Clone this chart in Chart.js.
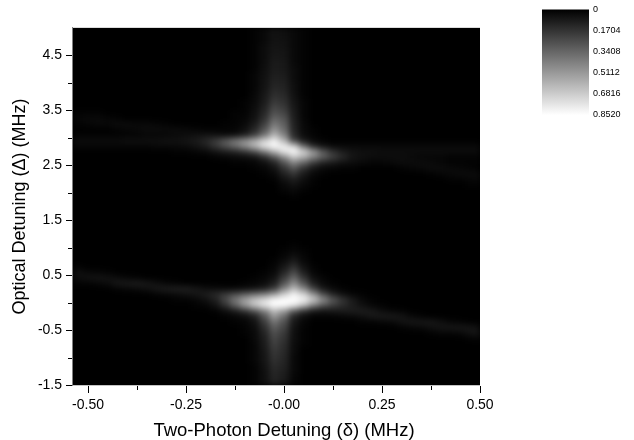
<!DOCTYPE html>
<html>
<head>
  <meta charset="utf-8">
  <title>Two-Photon Detuning Map</title>
  <script src="https://cdn.jsdelivr.net/npm/chart.js"></script>
  <style>
    body { margin: 0; background: #fff; }
    canvas { position: absolute; }
    #mapChart { left: 0; top: 0; }
    #barChart { left: 530px; top: 0; }
  </style>
</head>
<body>
  <canvas id="mapChart" width="634" height="440"></canvas>
  <canvas id="barChart" width="104" height="125"></canvas>

<script>
// detunings of the cell centres, MHz
const deltaValues = [-0.525,-0.5,-0.475,-0.45,-0.425,-0.4,-0.375,-0.35,-0.325,-0.3,-0.275,-0.25,-0.225,-0.2,-0.175,-0.15,-0.125,-0.1,-0.075,-0.05,-0.025,0,0.025,0.05,0.075,0.1,0.125,0.15,0.175,0.2,0.225,0.25,0.275,0.3,0.325,0.35,0.375,0.4,0.425,0.45,0.475,0.5];
const detuningValues = [4.95,4.85,4.75,4.65,4.55,4.45,4.35,4.25,4.15,4.05,3.95,3.85,3.75,3.65,3.55,3.45,3.35,3.25,3.15,3.05,2.95,2.85,2.75,2.65,2.55,2.45,2.35,2.25,2.15,2.05,1.95,1.85,1.75,1.65,1.55,1.45,1.35,1.25,1.15,1.05,0.95,0.85,0.75,0.65,0.55,0.45,0.35,0.25,0.15,0.05,-0.05,-0.15,-0.25,-0.35,-0.45,-0.55,-0.65,-0.75,-0.85,-0.95,-1.05,-1.15,-1.25,-1.35,-1.45];

// signal, in hundredths, one row per detuning
const signalRows = [
  [0,0,0,0,0,0,0,0,0,0, 0,0,0,0,0,0,0,0,1,3, 6,5,3,1,0,0,0,0,0,0, 0,0,0,0,0,0,0,0,0,0,0,0],
  [0,0,0,0,0,0,0,0,0,0, 0,0,0,0,0,0,0,0,1,3, 6,5,3,1,0,0,0,0,0,0, 0,0,0,0,0,0,0,0,0,0,0,0],
  [0,0,0,0,0,0,0,0,0,0, 0,0,0,0,0,0,0,0,1,3, 6,6,3,1,0,0,0,0,0,0, 0,0,0,0,0,0,0,0,0,0,0,0],
  [0,0,0,0,0,0,0,0,0,0, 0,0,0,0,0,0,0,0,1,4, 7,6,3,1,0,0,0,0,0,0, 0,0,0,0,0,0,0,0,0,0,0,0],
  [0,0,0,0,0,0,0,0,0,0, 0,0,0,0,0,0,0,0,1,4, 7,7,3,1,0,0,0,0,0,0, 0,0,0,0,0,0,0,0,0,0,0,0],
  [0,0,0,0,0,0,0,0,0,0, 0,0,0,0,0,0,0,0,1,4, 8,7,3,1,0,0,0,0,0,0, 0,0,0,0,0,0,0,0,0,0,0,0],
  [0,0,0,0,0,0,0,0,0,0, 0,0,0,0,0,0,0,0,1,4, 9,8,3,1,0,0,0,0,0,0, 0,0,0,0,0,0,0,0,0,0,0,0],
  [0,0,0,0,0,0,0,0,0,0, 0,0,0,0,0,0,0,0,1,5, 9,8,4,1,0,0,0,0,0,0, 0,0,0,0,0,0,0,0,0,0,0,0],
  [0,0,0,0,0,0,0,0,0,0, 0,0,0,0,0,0,0,0,2,5, 10,9,4,1,0,0,0,0,0,0, 0,0,0,0,0,0,0,0,0,0,0,0],
  [0,0,0,0,0,0,0,0,0,0, 0,0,0,0,0,0,0,0,2,6, 11,10,4,1,0,0,0,0,0,0, 0,0,0,0,0,0,0,0,0,0,0,0],
  [0,0,0,0,0,0,0,0,0,0, 0,0,0,0,0,0,0,0,2,6, 12,11,5,1,0,0,0,0,0,0, 0,0,0,0,0,0,0,0,0,0,0,0],
  [0,0,0,0,0,0,0,0,0,0, 0,0,0,0,0,0,0,0,2,7, 14,12,5,1,0,0,0,0,0,0, 0,0,0,0,0,0,0,0,0,0,0,0],
  [0,0,0,0,0,0,0,0,0,0, 0,0,0,0,0,0,0,0,3,8, 16,14,6,1,0,0,0,0,0,0, 0,0,0,0,0,0,0,0,0,0,0,0],
  [0,0,0,0,0,0,0,0,0,0, 0,0,0,0,0,0,0,1,3,9, 19,16,7,2,0,0,0,0,0,0, 0,0,0,0,0,0,0,0,0,0,0,0],
  [0,0,0,0,0,0,0,0,0,0, 0,0,0,0,0,0,0,1,4,11, 23,19,8,2,0,0,0,0,0,0, 0,0,0,0,0,0,0,0,0,0,0,0],
  [1,1,1,0,0,0,0,0,0,0, 0,0,0,0,0,0,1,1,5,13, 27,23,9,2,0,0,0,0,0,0, 0,0,0,0,0,0,0,0,0,0,0,0],
  [2,3,3,2,1,0,0,0,0,0, 0,0,0,0,0,0,1,2,6,16, 33,28,10,2,0,0,0,0,0,0, 0,0,0,0,0,0,0,0,0,0,0,0],
  [1,2,3,3,4,4,3,3,2,1, 0,0,0,0,0,1,1,3,9,21, 40,32,11,3,0,0,0,0,0,0, 0,0,0,0,0,0,0,0,0,0,0,0],
  [0,0,0,0,1,2,3,4,4,4, 4,3,2,1,1,1,2,5,13,28, 48,36,12,3,1,0,0,0,0,0, 0,0,0,0,0,0,0,0,0,0,0,0],
  [1,1,1,1,1,1,1,2,2,2, 3,4,5,6,5,3,4,9,20,38, 60,44,14,4,1,0,0,0,0,0, 0,0,0,0,0,0,0,0,0,0,0,0],
  [4,4,4,4,4,5,5,5,5,6, 6,7,9,13,20,30,40,48,57,70, 80,60,22,8,3,1,0,0,0,0, 0,0,0,0,0,0,0,0,0,0,0,0],
  [2,2,2,2,2,2,2,2,3,3, 3,4,6,10,18,27,36,48,62,78, 85,80,70,35,12,5,3,3,3,3, 3,3,3,3,3,3,3,3,3,3,3,3],
  [0,0,0,0,0,0,0,0,0,0, 1,1,2,3,6,9,12,17,26,42, 60,78,85,72,52,30,16,9,6,5, 5,4,4,4,4,4,4,4,4,4,4,4],
  [0,0,0,0,0,0,0,0,0,0, 0,0,0,0,1,2,3,4,6,14, 28,46,66,58,44,32,22,14,7,5, 4,4,4,4,3,2,2,2,1,1,1,1],
  [0,0,0,0,0,0,0,0,0,0, 0,0,0,0,0,0,1,1,2,5, 12,28,44,34,20,11,8,5,4,3, 2,2,3,4,4,4,3,2,1,1,1,1],
  [0,0,0,0,0,0,0,0,0,0, 0,0,0,0,0,0,0,0,1,2, 6,17,28,16,7,3,2,1,1,0, 0,0,0,1,2,3,4,4,3,2,1,0],
  [0,0,0,0,0,0,0,0,0,0, 0,0,0,0,0,0,0,0,0,1, 3,11,18,9,3,1,0,0,0,0, 0,0,0,0,0,0,1,2,3,4,4,4],
  [0,0,0,0,0,0,0,0,0,0, 0,0,0,0,0,0,0,0,0,0, 1,6,10,5,1,0,0,0,0,0, 0,0,0,0,0,0,0,0,1,1,2,3],
  [0,0,0,0,0,0,0,0,0,0, 0,0,0,0,0,0,0,0,0,0, 0,3,6,3,1,0,0,0,0,0, 0,0,0,0,0,0,0,0,0,0,1,1],
  [0,0,0,0,0,0,0,0,0,0, 0,0,0,0,0,0,0,0,0,0, 0,2,3,1,0,0,0,0,0,0, 0,0,0,0,0,0,0,0,0,0,0,0],
  [0,0,0,0,0,0,0,0,0,0, 0,0,0,0,0,0,0,0,0,0, 0,0,1,0,0,0,0,0,0,0, 0,0,0,0,0,0,0,0,0,0,0,0],
  [0,0,0,0,0,0,0,0,0,0, 0,0,0,0,0,0,0,0,0,0, 0,0,0,0,0,0,0,0,0,0, 0,0,0,0,0,0,0,0,0,0,0,0],
  [0,0,0,0,0,0,0,0,0,0, 0,0,0,0,0,0,0,0,0,0, 0,0,0,0,0,0,0,0,0,0, 0,0,0,0,0,0,0,0,0,0,0,0],
  [0,0,0,0,0,0,0,0,0,0, 0,0,0,0,0,0,0,0,0,0, 0,0,0,0,0,0,0,0,0,0, 0,0,0,0,0,0,0,0,0,0,0,0],
  [0,0,0,0,0,0,0,0,0,0, 0,0,0,0,0,0,0,0,0,0, 0,0,0,0,0,0,0,0,0,0, 0,0,0,0,0,0,0,0,0,0,0,0],
  [0,0,0,0,0,0,0,0,0,0, 0,0,0,0,0,0,0,0,0,0, 0,0,0,0,0,0,0,0,0,0, 0,0,0,0,0,0,0,0,0,0,0,0],
  [0,0,0,0,0,0,0,0,0,0, 0,0,0,0,0,0,0,0,0,0, 0,0,0,0,0,0,0,0,0,0, 0,0,0,0,0,0,0,0,0,0,0,0],
  [0,0,0,0,0,0,0,0,0,0, 0,0,0,0,0,0,0,0,0,0, 0,0,0,0,0,0,0,0,0,0, 0,0,0,0,0,0,0,0,0,0,0,0],
  [0,0,0,0,0,0,0,0,0,0, 0,0,0,0,0,0,0,0,0,0, 0,0,0,0,0,0,0,0,0,0, 0,0,0,0,0,0,0,0,0,0,0,0],
  [0,0,0,0,0,0,0,0,0,0, 0,0,0,0,0,0,0,0,0,0, 0,0,1,0,0,0,0,0,0,0, 0,0,0,0,0,0,0,0,0,0,0,0],
  [0,0,0,0,0,0,0,0,0,0, 0,0,0,0,0,0,0,0,0,0, 0,1,2,1,0,0,0,0,0,0, 0,0,0,0,0,0,0,0,0,0,0,0],
  [0,0,0,0,0,0,0,0,0,0, 0,0,0,0,0,0,0,0,0,0, 0,2,5,2,0,0,0,0,0,0, 0,0,0,0,0,0,0,0,0,0,0,0],
  [0,0,0,0,0,0,0,0,0,0, 0,0,0,0,0,0,0,0,0,0, 1,4,9,3,0,0,0,0,0,0, 0,0,0,0,0,0,0,0,0,0,0,0],
  [1,0,0,0,0,0,0,0,0,0, 0,0,0,0,0,0,0,0,0,0, 2,8,16,6,1,0,0,0,0,0, 0,0,0,0,0,0,0,0,0,0,0,0],
  [5,3,2,1,0,0,0,0,0,0, 0,0,0,0,0,0,0,0,0,1, 3,12,24,10,2,0,0,0,0,0, 0,0,0,0,0,0,0,0,0,0,0,0],
  [4,6,7,6,4,2,1,0,0,0, 0,0,0,0,0,0,0,0,1,2, 6,20,34,18,5,2,0,0,0,0, 0,0,0,0,0,0,0,0,0,0,0,0],
  [1,1,2,4,8,9,10,8,5,2, 1,0,0,0,0,0,0,1,2,4, 10,28,46,28,10,3,1,0,0,0, 0,0,0,0,0,0,0,0,0,0,0,0],
  [0,0,0,0,1,2,3,5,8,10, 11,11,8,5,4,3,3,4,6,10, 20,44,62,46,22,8,3,1,0,0, 0,0,0,0,0,0,0,0,0,0,0,0],
  [0,0,0,0,0,0,0,0,1,2, 3,5,7,10,14,20,26,32,38,44, 54,70,82,72,50,26,12,5,2,1, 0,0,0,0,0,0,0,0,0,0,0,0],
  [0,0,0,0,0,0,0,0,0,0, 1,1,2,5,10,24,40,54,66,74, 84,85,85,82,68,48,30,18,9,3, 1,0,0,0,0,0,0,0,0,0,0,0],
  [0,0,0,0,0,0,0,0,0,0, 0,0,1,2,6,16,32,50,66,78, 85,85,80,64,42,28,20,14,9,5, 2,1,0,0,0,0,0,0,0,0,0,0],
  [0,0,0,0,0,0,0,0,0,0, 0,0,0,0,1,4,9,17,28,42, 62,52,30,16,8,6,8,9,10,10, 8,4,2,1,0,0,0,0,0,0,0,0],
  [0,0,0,0,0,0,0,0,0,0, 0,0,0,0,0,1,2,4,10,28, 50,36,12,4,1,1,1,2,3,5, 8,9,9,7,3,1,0,0,0,0,0,0],
  [0,0,0,0,0,0,0,0,0,0, 0,0,0,0,0,0,1,2,6,20, 38,27,8,2,0,0,0,0,0,1, 1,2,3,6,8,8,8,5,2,1,0,0],
  [0,0,0,0,0,0,0,0,0,0, 0,0,0,0,0,0,0,1,4,15, 31,23,6,1,0,0,0,0,0,0, 0,0,0,1,2,3,5,7,8,8,7,5],
  [0,0,0,0,0,0,0,0,0,0, 0,0,0,0,0,0,0,1,3,12, 26,19,5,1,0,0,0,0,0,0, 0,0,0,0,0,0,1,2,2,3,6,8],
  [0,0,0,0,0,0,0,0,0,0, 0,0,0,0,0,0,0,0,3,10, 23,17,5,1,0,0,0,0,0,0, 0,0,0,0,0,0,0,0,0,0,1,2],
  [0,0,0,0,0,0,0,0,0,0, 0,0,0,0,0,0,0,0,2,9, 21,15,4,1,0,0,0,0,0,0, 0,0,0,0,0,0,0,0,0,0,0,0],
  [0,0,0,0,0,0,0,0,0,0, 0,0,0,0,0,0,0,0,2,8, 19,14,4,0,0,0,0,0,0,0, 0,0,0,0,0,0,0,0,0,0,0,0],
  [0,0,0,0,0,0,0,0,0,0, 0,0,0,0,0,0,0,0,2,7, 17,13,3,0,0,0,0,0,0,0, 0,0,0,0,0,0,0,0,0,0,0,0],
  [0,0,0,0,0,0,0,0,0,0, 0,0,0,0,0,0,0,0,2,7, 16,12,3,0,0,0,0,0,0,0, 0,0,0,0,0,0,0,0,0,0,0,0],
  [0,0,0,0,0,0,0,0,0,0, 0,0,0,0,0,0,0,0,1,6, 14,11,3,0,0,0,0,0,0,0, 0,0,0,0,0,0,0,0,0,0,0,0],
  [0,0,0,0,0,0,0,0,0,0, 0,0,0,0,0,0,0,0,1,5, 13,10,3,0,0,0,0,0,0,0, 0,0,0,0,0,0,0,0,0,0,0,0],
  [0,0,0,0,0,0,0,0,0,0, 0,0,0,0,0,0,0,0,1,5, 12,9,2,0,0,0,0,0,0,0, 0,0,0,0,0,0,0,0,0,0,0,0],
  [0,0,0,0,0,0,0,0,0,0, 0,0,0,0,0,0,0,0,1,5, 11,8,2,0,0,0,0,0,0,0, 0,0,0,0,0,0,0,0,0,0,0,0]
];

const xTicks = [-0.5, -0.25, 0, 0.25, 0.5];
const xTickLabels = ['-0.50', '-0.25', '-0.00', '0.25', '0.50'];
const xMinorTicks = [-0.375, -0.125, 0.125, 0.375];
const yTicks = [4.5, 3.5, 2.5, 1.5, 0.5, -0.5, -1.5];
const yTickLabels = ['4.5', '3.5', '2.5', '1.5', '0.5', '-0.5', '-1.5'];
const yMinorTicks = [4, 3, 2, 1, 0, -1];
const barTicks = [0, 0.1704, 0.3408, 0.5112, 0.6816, 0.852];
const barTickLabels = ['0', '0.1704', '0.3408', '0.5112', '0.6816', '0.8520'];
const signalMax = 0.852;

const FONT = "'Liberation Sans', Arial, sans-serif";

function grey(v) {
  const g = Math.min(255, Math.round(v / signalMax * 255));
  return `rgb(${g},${g},${g})`;
}

const cells = [];
detuningValues.forEach((y, r) => {
  deltaValues.forEach((x, c) => {
    if (signalRows[r][c] > 0) cells.push({ x, y, v: signalRows[r][c] / 100 });
  });
});

// the cells are tiled crisp, then the whole plot area is softened once
const softCells = {
  id: 'softCells',
  beforeDatasetsDraw(chart) {
    const { ctx, chartArea: a } = chart;
    ctx.save();
    ctx.fillStyle = '#000';
    ctx.fillRect(a.left, a.top, a.right - a.left, a.bottom - a.top);
    ctx.restore();
  },
  beforeDatasetDraw(chart) {
    chart.ctx.globalCompositeOperation = 'lighter';
  },
  afterDatasetDraw(chart) {
    chart.ctx.globalCompositeOperation = 'source-over';
  },
  afterDatasetsDraw(chart) {
    const { ctx, chartArea: a } = chart;
    const w = a.right - a.left;
    const h = a.bottom - a.top;
    const copy = document.createElement('canvas');
    copy.width = w;
    copy.height = h;
    copy.getContext('2d').drawImage(ctx.canvas, a.left, a.top, w, h, 0, 0, w, h);
    ctx.save();
    ctx.beginPath();
    ctx.rect(a.left, a.top, w, h);
    ctx.clip();
    ctx.fillStyle = '#000';
    ctx.fillRect(a.left, a.top, w, h);
    ctx.filter = 'blur(3px)';
    ctx.drawImage(copy, a.left, a.top);
    ctx.restore();
  }
};

// axis frame, major and minor tick marks, bottom title
const frame = {
  id: 'frame',
  afterDraw(chart) {
    const { ctx, chartArea: a, scales } = chart;
    ctx.save();
    ctx.lineWidth = 1;
    ctx.strokeStyle = '#dcdcdc';
    ctx.beginPath();
    ctx.moveTo(a.left, a.top - 0.5);
    ctx.lineTo(a.right, a.top - 0.5);
    ctx.stroke();
    ctx.strokeStyle = '#c4c4c4';
    ctx.beginPath();
    ctx.moveTo(a.left, a.bottom + 0.5);
    ctx.lineTo(a.right, a.bottom + 0.5);
    ctx.stroke();
    ctx.strokeStyle = '#808080';
    ctx.beginPath();
    ctx.moveTo(a.left - 0.5, a.top - 1);
    ctx.lineTo(a.left - 0.5, a.bottom + 1);
    ctx.stroke();

    ctx.strokeStyle = '#000';
    const yTick = (v, len) => {
      const p = Math.round(scales.y.getPixelForValue(v)) + 0.5;
      ctx.beginPath();
      ctx.moveTo(a.left - 1 - len, p);
      ctx.lineTo(a.left - 1, p);
      ctx.stroke();
    };
    const xTick = (v, len) => {
      const p = Math.round(scales.x.getPixelForValue(v)) + 0.5;
      ctx.beginPath();
      ctx.moveTo(p, a.bottom + 1);
      ctx.lineTo(p, a.bottom + 1 + len);
      ctx.stroke();
    };
    yTicks.forEach(v => yTick(v, 6));
    yMinorTicks.forEach(v => yTick(v, 4));
    xTicks.forEach(v => xTick(v, 7));
    xMinorTicks.forEach(v => xTick(v, 4));

    ctx.fillStyle = '#000';
    ctx.font = `18.5px ${FONT}`;
    ctx.textAlign = 'center';
    ctx.textBaseline = 'middle';
    ctx.fillText('Two-Photon Detuning (δ) (MHz)', scales.x.getPixelForValue(0), 431);
    ctx.restore();
  }
};

new Chart(document.getElementById('mapChart'), {
  type: 'scatter',
  data: {
    datasets: [{
      label: 'signal',
      data: cells,
      pointStyle: 'line',
      pointRadius: 4.9,
      pointHoverRadius: 4.9,
      pointBorderWidth: 5.5,
      pointBorderColor: cells.map(c => grey(c.v))
    }]
  },
  options: {
    responsive: false,
    animation: false,
    events: [],
    layout: { padding: { top: 28, right: 154, left: 0, bottom: 0 } },
    plugins: { legend: { display: false }, tooltip: { enabled: false } },
    scales: {
      x: {
        type: 'linear',
        min: -0.5383,
        max: 0.5,
        grid: { display: false, drawTicks: false },
        border: { display: false },
        afterFit: s => { s.height = 55; },
        afterBuildTicks: s => { s.ticks = xTicks.map(value => ({ value })); },
        ticks: {
          autoSkip: false,
          maxRotation: 0,
          padding: 12,
          color: '#000',
          font: { family: FONT, size: 14 },
          callback: (v) => xTickLabels[xTicks.indexOf(v)]
        }
      },
      y: {
        type: 'linear',
        min: -1.5,
        max: 5,
        grid: { display: false, drawTicks: false },
        border: { display: false },
        afterFit: s => { s.width = 73; },
        afterBuildTicks: s => { s.ticks = yTicks.map(value => ({ value })); },
        title: {
          display: true,
          text: 'Optical Detuning (Δ) (MHz)',
          color: '#000',
          font: { family: FONT, size: 18 },
          padding: { top: 9, bottom: 0 }
        },
        ticks: {
          autoSkip: false,
          padding: 11,
          color: '#000',
          font: { family: FONT, size: 14 },
          callback: (v) => yTickLabels[yTicks.indexOf(v)]
        }
      }
    }
  },
  plugins: [softCells, frame]
});

new Chart(document.getElementById('barChart'), {
  type: 'bar',
  data: {
    labels: ['scale'],
    datasets: [{
      data: [[0, signalMax]],
      barPercentage: 1,
      categoryPercentage: 1,
      backgroundColor: (c) => {
        const { chart } = c;
        if (!chart.chartArea) return '#888';
        const g = chart.ctx.createLinearGradient(0, chart.scales.y.getPixelForValue(0), 0, chart.scales.y.getPixelForValue(signalMax));
        g.addColorStop(0, '#000');
        g.addColorStop(1, '#fff');
        return g;
      }
    }]
  },
  options: {
    responsive: false,
    animation: false,
    events: [],
    layout: { padding: { top: 9, left: 12, right: 0, bottom: 10 } },
    plugins: { legend: { display: false }, tooltip: { enabled: false } },
    scales: {
      x: { display: false },
      y: {
        position: 'right',
        reverse: true,
        min: 0,
        max: signalMax,
        grid: { display: false, drawTicks: false },
        border: { display: false },
        afterFit: s => { s.width = 45; },
        afterBuildTicks: s => { s.ticks = barTicks.map(value => ({ value })); },
        ticks: {
          autoSkip: false,
          padding: 4,
          color: '#000',
          font: { family: FONT, size: 9 },
          callback: (v) => barTickLabels[barTicks.indexOf(v)]
        }
      }
    }
  }
});
</script>
</body>
</html>
